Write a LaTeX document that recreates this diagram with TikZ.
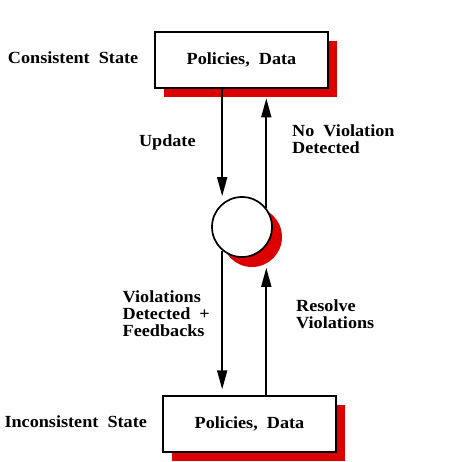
\documentclass[tikz,border=0pt]{standalone}
\usepackage{fontspec}
\setmainfont{Liberation Serif}[FakeStretch=1.07]
\usetikzlibrary{positioning,shadows,arrows.meta}
\definecolor{shadowred}{RGB}{221,0,0}

\begin{document}
\begin{tikzpicture}[
                        x=1pt, y=-1pt,
                        >={Triangle[length=19pt,width=10pt]},
                        line width=1.7pt,
                        font=\fontsize{17pt}{17pt}\selectfont\bfseries,
                        redshadow/.style={drop shadow={shadow xshift=#1, shadow yshift=-#1, fill=shadowred, opacity=1}},
                        block/.style={rectangle, draw, fill=white, minimum width=173pt, minimum height=56pt, redshadow=9pt},
                        lbl/.style={inner sep=0pt, align=left}
                    ]
                    \useasboundingbox (0,0) rectangle (474,462);
                    % Blocks
                    \node [block] (topbox) at (241.5,60) {Policies,\ \ Data};
                    \node [circle, draw, fill=white, minimum size=60pt, inner sep=0pt, redshadow=10pt] (circ) at (242,227) {};
                    \node [block] (botbox) at (249.5,423.7) {Policies,\ \ Data};
                    \node [lbl, left=15pt of topbox, yshift=2.5pt] (cons) {Consistent\ \ State};
                    \node [lbl, left=14.3pt of botbox, yshift=2pt] (incons) {Inconsistent\ \ State};
                    \path (topbox.south -| circ.38) ++(0,9.5) coordinate (nvtip);
                    \path (circ.south -| circ.38) ++(0,10) coordinate (rvtip);

                    % Connections
                    \draw [->] (topbox.south -| circ.-130) --node[lbl, left=25.7pt]{Update} (circ.north -| circ.-130);
                    \draw [->] (circ.38) --node[lbl, pos=0.626, right=25pt]{No\ \ Violation\\Detected} (nvtip);
                    \draw [->, shorten >=5.5pt] (circ.-130) --node[lbl, pos=0.434, left=11.5pt]{Violations\\Detected\ \ +\\Feedbacks} (botbox.north -| circ.-130);
                    \draw [->] (botbox.north -| circ.38) --node[lbl, pos=0.635, right=29pt]{Resolve\\Violations} (rvtip);
                \end{tikzpicture}
\end{document}
